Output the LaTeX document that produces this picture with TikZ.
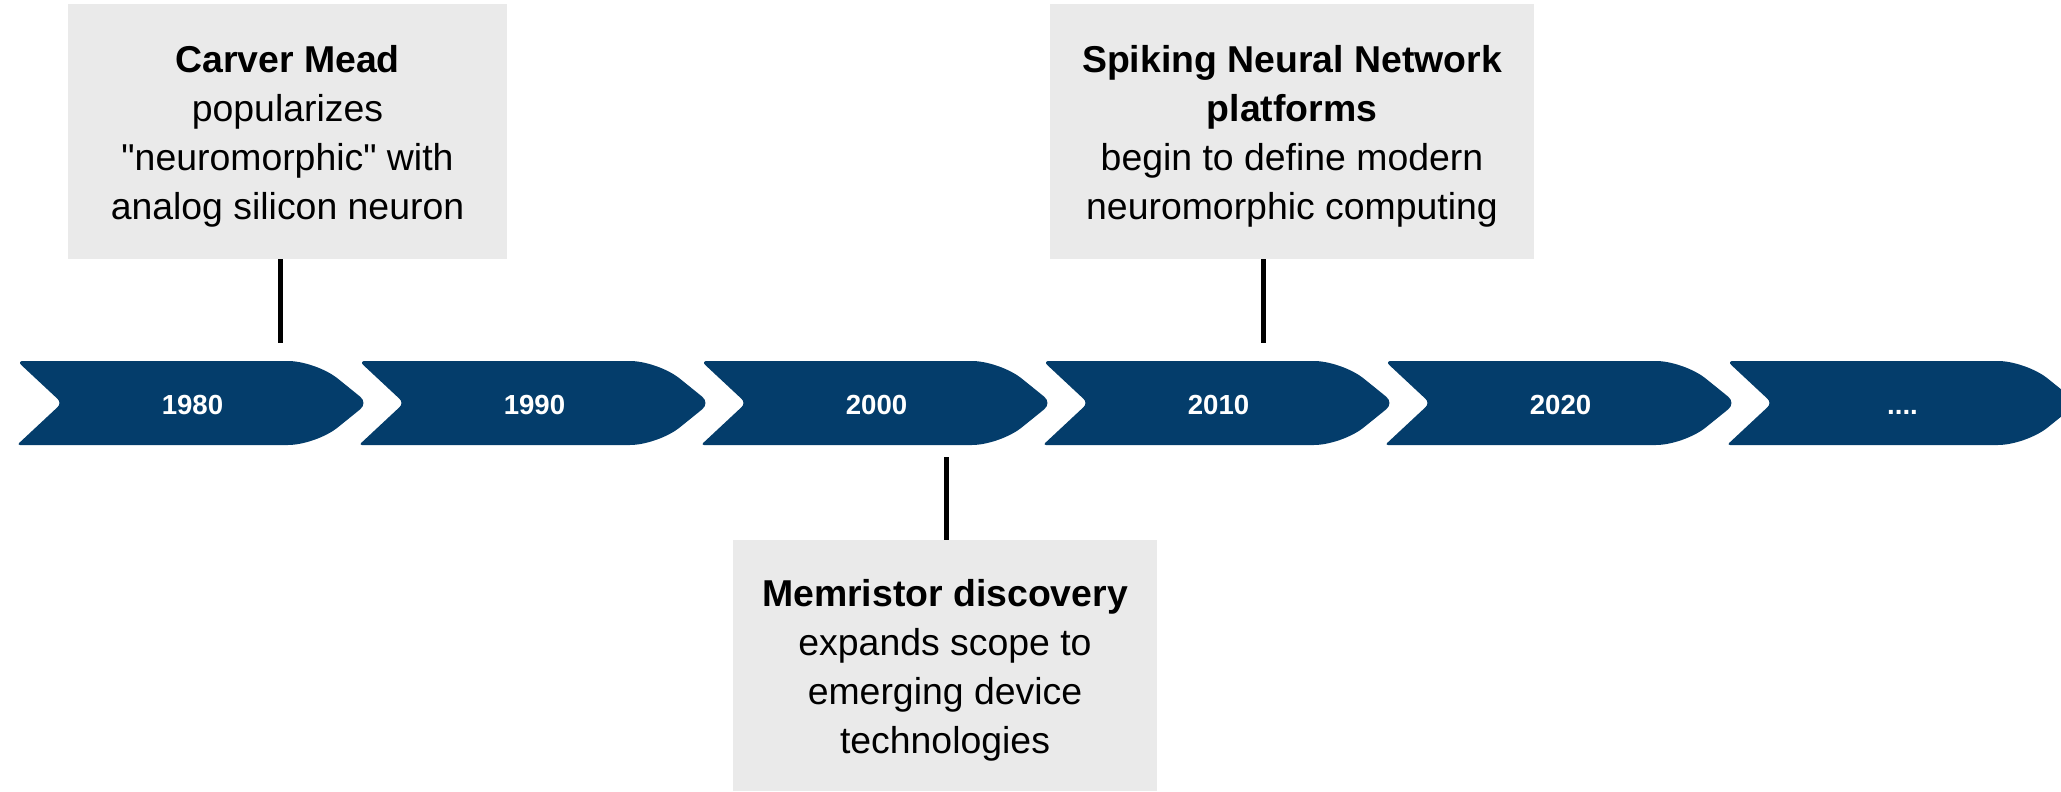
\documentclass[tikz,border=0pt]{standalone}
\usepackage{fontspec}
\setmainfont{Liberation Sans}[Ligatures=TeXOff]
\definecolor{chevblue}{HTML}{043D6B}
\definecolor{boxgray}{HTML}{EAEAEA}
\newcommand\myfourdots{.\kern0pt.\kern0pt.\kern0pt.}
\begin{document}
\begin{tikzpicture}[x=0.5pt,y=-0.5pt,
  yearlabel/.style={text=white,font=\fontsize{13.8}{16}\selectfont\bfseries,inner sep=0,anchor=base},
  eventbox/.style={fill=boxgray,inner sep=0},
  eventtext/.style={align=center,inner sep=0,font=\fontsize{18.7}{24.5}\selectfont},
  tick/.style={line width=2.5pt,black}]
\clip (0,0) rectangle (2061,792);
\fill[white] (0,0) rectangle (2061,792);
\foreach \i/\yr in {0/1980,1/1990,2/2000,3/2010,4/2020,5/\myfourdots} {
  \pgfmathsetmacro\L{17+342*\i}
  \fill[chevblue, rounded corners=1.5pt] (\L,361) [rounded corners=14pt] -- (\L+299,361) [rounded corners=5pt] -- (\L+351,403) [rounded corners=14pt] -- (\L+299,445) [rounded corners=1.5pt] -- (\L,445) [rounded corners=3pt] -- (\L+45,403) -- cycle;
  \node[yearlabel] (y\i) at (\L+175.5,414) {\yr};
}
\node[eventbox, minimum width=219.5pt, minimum height=127.5pt] (carver) at (287.5,131.5) {};
\node[eventtext] (carvertext) at ([yshift=-2.5pt]carver.center)
  {\textbf{Carver Mead}\\popularizes\\"neuromorphic" with\\analog silicon neuron};
\node[eventbox, minimum width=242pt, minimum height=127.5pt] (snn) at (1292,131.5) {};
\node[eventtext] (snntext) at ([yshift=-2.5pt]snn.center)
  {\textbf{Spiking Neural Network}\\\textbf{platforms}\\begin to define modern\\neuromorphic computing};
\node[eventbox, minimum width=212pt, minimum height=125.5pt] (memristor) at (945,665.5) {};
\node[eventtext] (memristortext) at ([yshift=-2.5pt]memristor.center)
  {\textbf{Memristor discovery}\\expands scope to\\emerging device\\technologies};
\coordinate (t1) at (280,343);
\coordinate (t2) at (946,457);
\coordinate (t3) at (1263,343);
\draw[tick] (carver.south -| t1) -- (t1);
\draw[tick] (t2) -- (t2 |- memristor.north);
\draw[tick] (snn.south -| t3) -- (t3);
\end{tikzpicture}
\end{document}
